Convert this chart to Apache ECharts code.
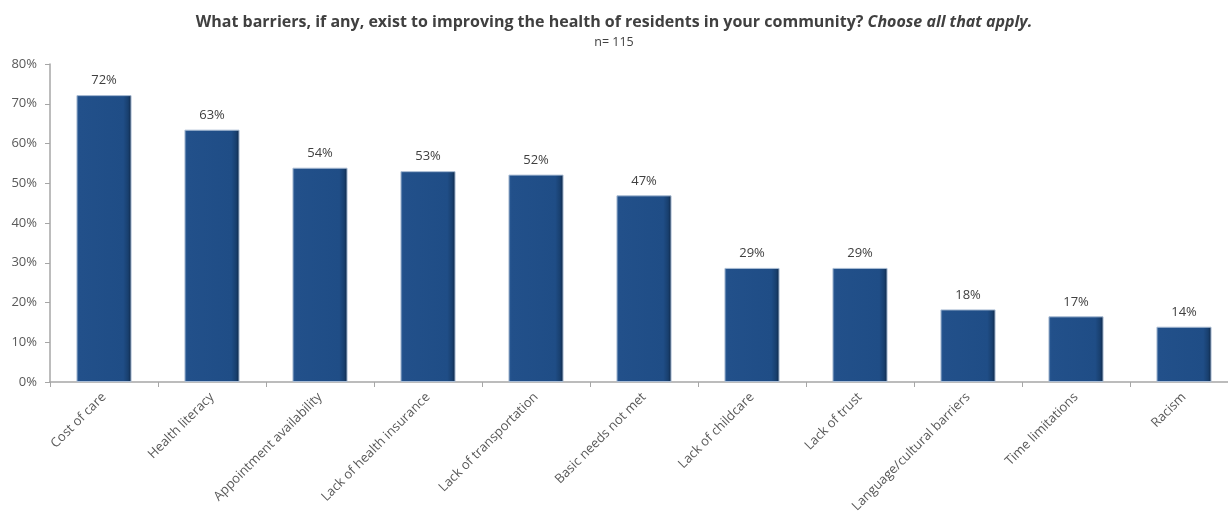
<!DOCTYPE html>
<html>
<head>
<meta charset="utf-8">
<script src="https://cdn.jsdelivr.net/npm/echarts@6/dist/echarts.min.js"></script>
<style>
html,body{margin:0;padding:0;background:#fff;}
#chart{width:1228px;height:513px;}
</style>
</head>
<body>
<div id="chart"></div>
<script>
var categories = ["Cost of care","Health literacy","Appointment availability","Lack of health insurance","Lack of transportation","Basic needs not met","Lack of childcare","Lack of trust","Language/cultural barriers","Time limitations","Racism"];
var values = [72.17, 63.48, 53.91, 53.04, 52.17, 46.96, 28.70, 28.70, 18.26, 16.52, 13.91];
var yTicks = [0, 10, 20, 30, 40, 50, 60, 70, 80];
var titleMain = "What barriers, if any, exist to improving the health of residents in your community? ";
var titleItalic = "Choose all that apply.";
var subtitle = "n= 115";

var font = "'Open Sans', sans-serif";
var chart = echarts.init(document.getElementById('chart'), null, {renderer:'canvas'});
chart.setOption({
  animation:false,
  backgroundColor:'#ffffff',
  title:{
    text:'{b|' + titleMain + '}{i|' + titleItalic + '}',
    subtext: subtitle,
    left:'center', top:9, itemGap:6,
    textStyle:{
      rich:{
        b:{fontFamily:font,fontWeight:'bold',fontSize:16,color:'#404040'},
        i:{fontFamily:font,fontWeight:'bold',fontStyle:'italic',fontSize:16,color:'#404040'}
      }
    },
    subtextStyle:{fontFamily:font,fontSize:12.5,color:'#404040'}
  },
  grid:{left:50, right:-10, top:64, bottom:131, containLabel:false, outerBoundsMode:'none'},
  xAxis:{
    type:'category', data:categories,
    axisLine:{lineStyle:{color:'#a6a6a6',width:1.5}},
    axisTick:{show:true,alignWithLabel:false,length:5,lineStyle:{color:'#a6a6a6'}},
    axisLabel:{rotate:45,interval:0,margin:13,fontFamily:font,fontSize:13,color:'#595959'}
  },
  yAxis:{
    type:'value', min:yTicks[0], max:yTicks[yTicks.length-1], interval:10,
    axisLine:{show:true,lineStyle:{color:'#a6a6a6',width:1.5}},
    axisTick:{show:true,length:5,lineStyle:{color:'#a6a6a6'}},
    splitLine:{show:false},
    axisLabel:{formatter:function(v){return v+'%';},fontFamily:font,fontSize:13,color:'#595959',margin:13}
  },
  series:[{
    type:'bar', data:values, barWidth:'51%',
    itemStyle:{
      color:new echarts.graphic.LinearGradient(0,0,1,0,[
        {offset:0,color:'#2c5c96'},
        {offset:0.06,color:'#22508a'},
        {offset:0.85,color:'#1f4d86'},
        {offset:0.94,color:'#183f6e'},
        {offset:1,color:'#0d2543'}
      ]),
      borderColor:'#a9bcd4', borderWidth:1
    },
    label:{show:true,position:'top',distance:8,fontFamily:font,fontSize:13,color:'#404040',
      formatter:function(p){return Math.round(p.value)+'%';}}
  }]
});
</script>
</body>
</html>
